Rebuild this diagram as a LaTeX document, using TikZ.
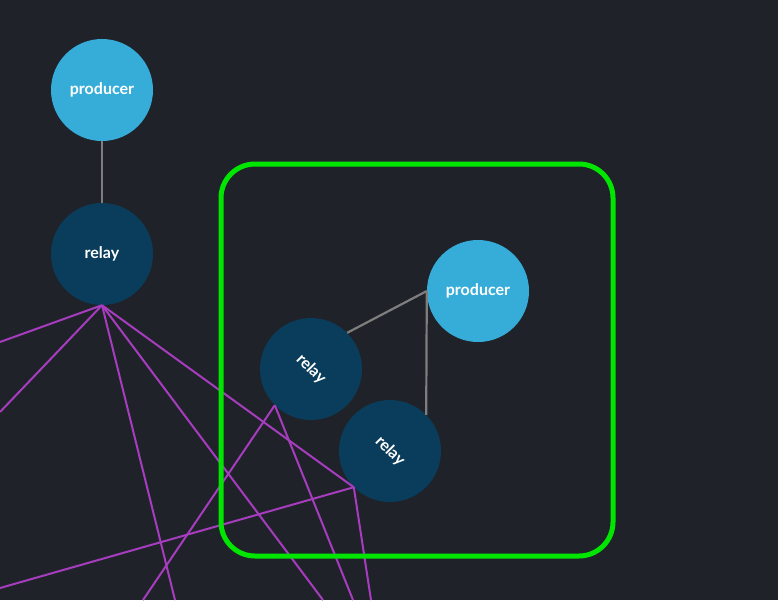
\documentclass[tikz,border=0pt]{standalone}
\usepackage{fontspec}
\usepackage{graphicx}
\setmainfont{Lato}[UprightFont=* Bold]
\definecolor{bgc}{HTML}{20222A}
\definecolor{prodc}{HTML}{36ADD9}
\definecolor{relayc}{HTML}{0A3D5B}
\definecolor{magc}{HTML}{A63CBE}
\definecolor{grnc}{HTML}{00E600}
\definecolor{edgec}{HTML}{7E7E7E}
\tikzset{
  producer/.style={circle, fill=prodc, minimum size=102pt, inner sep=0pt, text=white, font=\fontsize{16}{18}\selectfont},
  relay/.style={circle, fill=relayc, minimum size=102pt, inner sep=0pt, text=white, font=\fontsize{16}{18}\selectfont},
  link/.style={draw=edgec, line width=2.2pt},
  mag/.style={draw=magc, line width=2pt},
  group/.style={draw=grnc, line width=5pt, rounded corners=34pt}
}
\begin{document}
\begin{tikzpicture}[x=1pt,y=-1pt]
\path[fill=bgc] (0,0) rectangle (778,600);
\useasboundingbox (0,0) rectangle (778,600);
% free ends
\coordinate (e1) at (0,342);
\coordinate (e2) at (0,412);
\coordinate (e3) at (175,600);
\coordinate (e4) at (323,600);
\coordinate (e5) at (0,588);
\coordinate (e6) at (371,600);
\coordinate (e7) at (143,600);
\coordinate (e8) at (353,600);
% nodes
\node[producer] (p1) at (102,90) {producer};
\node[relay] (r0) at (102,254) {relay};
\node[producer] (p2) at (478,291) {producer};
\node[relay] (r1) at (311,369) {\rotatebox{-45}{relay}};
\node[relay] (r2) at (390,451) {\rotatebox{-45}{relay}};
% grey links
\draw[link] (p1.south) -- (r0.north);
\draw[link] (p2.west) -- (r1.45);
\draw[link] (p2.west) -- (r2.45);
% magenta links
\draw[mag] (r0.south) -- (e1);
\draw[mag] (r0.south) -- (e2);
\draw[mag] (r0.south) -- (e3);
\draw[mag] (r0.south) -- (e4);
\draw[mag] (r0.south) -- (r2.225);
\draw[mag] (r2.225) -- (e5);
\draw[mag] (r2.225) -- (e6);
\draw[mag] (r1.225) -- (e7);
\draw[mag] (r1.225) -- (e8);
% group box
\draw[group] (221,164) rectangle (613,556);
\end{tikzpicture}
\end{document}
